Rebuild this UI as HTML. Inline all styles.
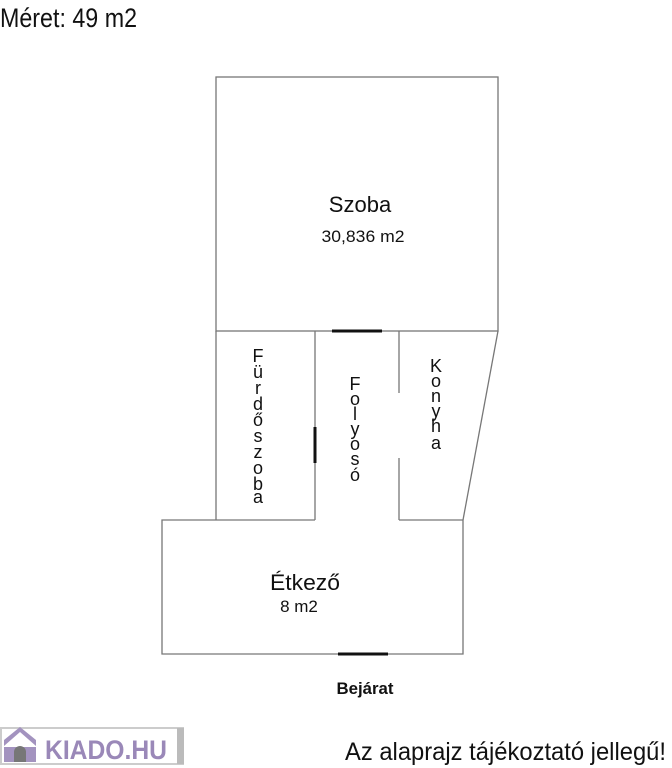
<!DOCTYPE html>
<html><head><meta charset="utf-8"><style>
html,body{margin:0;padding:0;background:#fff;width:672px;height:768px;overflow:hidden}
svg{display:block}
text{font-family:"Liberation Sans",sans-serif;fill:#111}
</style></head><body>
<svg width="672" height="768" viewBox="0 0 672 768">
<text x="0" y="27" font-size="27" textLength="137" lengthAdjust="spacingAndGlyphs">Méret: 49 m2</text>
<g stroke="#777" stroke-width="1.3" fill="none">
<rect x="216" y="77" width="282" height="254"/>
<line x1="216" y1="331" x2="216" y2="520"/>
<line x1="315" y1="331" x2="315" y2="520"/>
<line x1="399" y1="331" x2="399" y2="393"/>
<line x1="399" y1="458" x2="399" y2="520"/>
<line x1="498" y1="331" x2="463" y2="520"/>
<polyline points="315,520 162,520 162,654 463,654 463,520 399,520"/>
</g>
<g stroke="#111" stroke-width="3">
<line x1="332" y1="331" x2="382" y2="331"/>
<line x1="315" y1="427" x2="315" y2="463"/>
<line x1="338" y1="654" x2="388" y2="654"/>
</g>
<text x="360" y="212" font-size="22" text-anchor="middle">Szoba</text>
<text x="363" y="242" font-size="17" text-anchor="middle" textLength="83" lengthAdjust="spacingAndGlyphs">30,836 m2</text>
<text x="305" y="590" font-size="22" text-anchor="middle" textLength="70" lengthAdjust="spacingAndGlyphs">Étkező</text>
<text x="299" y="612" font-size="17" text-anchor="middle">8 m2</text>
<text x="365" y="694" font-size="17" font-weight="bold" text-anchor="middle" textLength="57" lengthAdjust="spacingAndGlyphs">Bejárat</text>
<g font-size="18" text-anchor="middle">
<text x="258" y="362">F</text><text x="258" y="378">ü</text><text x="258" y="394">r</text><text x="258" y="410">d</text><text x="258" y="426">ő</text><text x="258" y="442">s</text><text x="258" y="458">z</text><text x="258" y="474">o</text><text x="258" y="490">b</text><text x="258" y="503">a</text>
<text x="355" y="390">F</text><text x="355" y="405">o</text><text x="355" y="420">l</text><text x="355" y="435">y</text><text x="355" y="450">o</text><text x="355" y="465">s</text><text x="355" y="481">ó</text>
<text x="436" y="372">K</text><text x="436" y="387">o</text><text x="436" y="402">n</text><text x="436" y="417">y</text><text x="436" y="432">h</text><text x="436" y="449">a</text>
</g>
<rect x="1" y="728" width="182" height="36" fill="#fff" stroke="#ccc" stroke-width="2"/>
<rect x="177" y="728" width="7" height="36" fill="#bbb"/>
<polygon points="4,746 20,732 36,746 36,740 20,727 4,740" fill="#a393bf"/>
<rect x="4" y="747" width="32" height="15" fill="#a393bf"/>
<path d="M14,762 V752 a6,6 0 0 1 12,0 V762 Z" fill="#777"/>
<circle cx="20" cy="740" r="2.5" fill="#fff"/>
<text x="45" y="759" font-size="27" font-weight="bold" style="fill:#9a88b8" textLength="122" lengthAdjust="spacingAndGlyphs">KIADO.HU</text>
<text x="345" y="760" font-size="25" textLength="321" lengthAdjust="spacingAndGlyphs">Az alaprajz tájékoztató jellegű!</text>
</svg>
</body></html>
